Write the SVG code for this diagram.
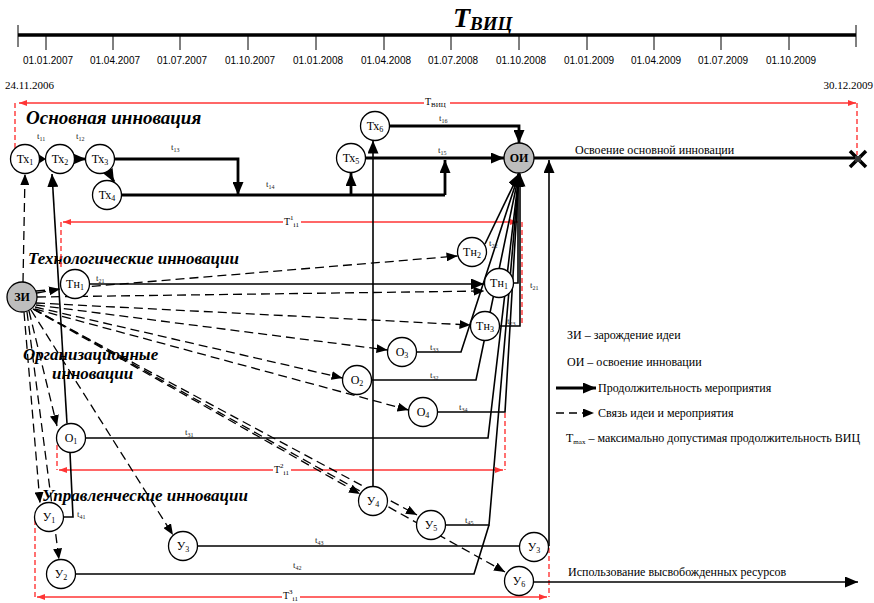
<svg xmlns="http://www.w3.org/2000/svg" width="874" height="603" viewBox="0 0 874 603">
  <style>
    .node circle { fill: #fff; stroke: #000; stroke-width: 1.3; }
    .node.grey circle { fill: #bdbdbd; }
    .nl { font-family: "Liberation Serif", "Times New Roman", serif; font-size: 12px; text-anchor: middle; }
    .nb { font-family: "Liberation Serif", "Times New Roman", serif; font-size: 12px; font-weight: bold; text-anchor: middle; }
    .thick { stroke: #000; stroke-width: 2.8; fill: none; }
    .thin { stroke: #000; stroke-width: 1.6; fill: none; }
    .dash { stroke: #000; stroke-width: 1.3; fill: none; stroke-dasharray: 9 5; }
    .red { stroke: #ff3535; stroke-width: 1.4; fill: none; }
    .reddash { stroke: #ff3535; stroke-width: 1.4; fill: none; stroke-dasharray: 5 3; }
    .t { font-family: "Liberation Serif", "Times New Roman", serif; font-size: 9px; fill: #222; }
    .h { font-family: "Liberation Serif", "Times New Roman", serif; font-weight: bold; font-style: italic; font-size: 17px; }
    .h.big { font-size: 19px; }
    .lg { font-family: "Liberation Serif", "Times New Roman", serif; font-size: 12px; }
    .date { font-family: "Liberation Sans", Arial, sans-serif; font-size: 10px; text-anchor: middle; }
    .rl { font-family: "Liberation Serif", "Times New Roman", serif; font-size: 10px; }
  </style>
  <defs>
    <marker id="ab" markerUnits="userSpaceOnUse" markerWidth="13" markerHeight="11" refX="13" refY="5.5" orient="auto">
      <path d="M0,0 L13,5.5 L0,11 z" fill="#000"/>
    </marker>
    <marker id="as" markerUnits="userSpaceOnUse" markerWidth="11" markerHeight="9" refX="11" refY="4.5" orient="auto">
      <path d="M0,0 L11,4.5 L0,9 z" fill="#000"/>
    </marker>
    <marker id="ar" markerUnits="userSpaceOnUse" markerWidth="8" markerHeight="6" refX="8" refY="3" orient="auto">
      <path d="M0,0 L8,3 L0,6 z" fill="#ff3535"/>
    </marker>
    <marker id="arl" markerUnits="userSpaceOnUse" markerWidth="8" markerHeight="6" refX="0" refY="3" orient="auto">
      <path d="M8,0 L0,3 L8,6 z" fill="#ff3535"/>
    </marker>
  </defs>

  <rect width="874" height="603" fill="#fff"/>

  <!-- time axis -->
  <g id="axis">
    <text x="453" y="27" font-family="Liberation Serif, serif" font-weight="bold" font-style="italic" font-size="28">T<tspan font-size="19" dy="3">ВИЦ</tspan></text>
    <line x1="18" y1="35" x2="856" y2="35" stroke="#000" stroke-width="3.5"/>
    <g stroke="#000" stroke-width="1">
      <line x1="18" y1="25" x2="18" y2="47"/>
      <line x1="856" y1="25" x2="856" y2="47"/>
      <line x1="46" y1="35" x2="46" y2="50"/>
      <line x1="113" y1="35" x2="113" y2="50"/>
      <line x1="180" y1="35" x2="180" y2="50"/>
      <line x1="248" y1="35" x2="248" y2="50"/>
      <line x1="316" y1="35" x2="316" y2="50"/>
      <line x1="384" y1="35" x2="384" y2="50"/>
      <line x1="451" y1="35" x2="451" y2="50"/>
      <line x1="519" y1="35" x2="519" y2="50"/>
      <line x1="587" y1="35" x2="587" y2="50"/>
      <line x1="654" y1="35" x2="654" y2="50"/>
      <line x1="721" y1="35" x2="721" y2="50"/>
      <line x1="789" y1="35" x2="789" y2="50"/>
    </g>
    <g class="date">
      <text x="48" y="64">01.01.2007</text>
      <text x="115" y="64">01.04.2007</text>
      <text x="182" y="64">01.07.2007</text>
      <text x="250" y="64">01.10.2007</text>
      <text x="318" y="64">01.01.2008</text>
      <text x="386" y="64">01.04.2008</text>
      <text x="453" y="64">01.07.2008</text>
      <text x="521" y="64">01.10.2008</text>
      <text x="589" y="64">01.01.2009</text>
      <text x="656" y="64">01.04.2009</text>
      <text x="723" y="64">01.07.2009</text>
      <text x="791" y="64">01.10.2009</text>
    </g>
    <text x="5" y="89" font-family="Liberation Serif, serif" font-size="11">24.11.2006</text>
    <text x="873" y="89" text-anchor="end" font-family="Liberation Serif, serif" font-size="11">30.12.2009</text>
  </g>

  <!-- section headings -->
  <g id="headings">
    <text class="h big" x="26" y="124">Основная инновация</text>
    <text class="h" x="28" y="264">Технологические инновации</text>
    <text class="h" x="23" y="360">Организационные</text>
    <text class="h" x="52" y="379">инновации</text>
    <text class="h" x="42" y="501">Управленческие инновации</text>
  </g>

  <!-- red duration brackets -->
  <g id="durations">
    <path class="red" d="M19,103 H856" marker-start="url(#arl)" marker-end="url(#ar)"/>
    <path class="reddash" d="M15,103 V149"/>
    <path class="reddash" d="M857,103 V155"/>
    <rect x="424" y="97" width="26" height="12" fill="#fff"/>
    <text class="rl" x="425" y="105">Т<tspan font-size="7" dy="2">ВИЦ</tspan></text>

    <path class="red" d="M63,222 H518" marker-start="url(#arl)" marker-end="url(#ar)"/>
    <path class="reddash" d="M61,222 V270"/>
    <path class="reddash" d="M522,222 V326"/>
    <rect x="283" y="214" width="18" height="14" fill="#fff"/>
    <text class="rl" x="284" y="225">T<tspan font-size="7" dy="-5">1</tspan><tspan font-size="7" dy="7">i1</tspan></text>

    <path class="red" d="M59,470 H503" marker-start="url(#arl)" marker-end="url(#ar)"/>
    <path class="reddash" d="M57,445 V470"/>
    <path class="reddash" d="M505,413 V470"/>
    <rect x="273" y="462" width="18" height="14" fill="#fff"/>
    <text class="rl" x="274" y="473">T<tspan font-size="7" dy="-5">2</tspan><tspan font-size="7" dy="7">i1</tspan></text>

    <path class="red" d="M37,597 H547" marker-start="url(#arl)" marker-end="url(#ar)"/>
    <path class="reddash" d="M35,520 V597"/>
    <path class="reddash" d="M549,548 V597"/>
    <rect x="282" y="588" width="18" height="14" fill="#fff"/>
    <text class="rl" x="283" y="599">T<tspan font-size="7" dy="-5">3</tspan><tspan font-size="7" dy="7">i1</tspan></text>
  </g>

  <!-- connectors -->
  <g id="connectors">
    <!-- idea links (dashed) -->
    <path class="dash" d="M23,282 L25,174" marker-end="url(#as)"/>
    <path class="dash" d="M37,293 L60,289" marker-end="url(#as)"/>
    <path class="dash" d="M36,291 L457.5,256" marker-end="url(#as)"/>
    <path class="dash" d="M37,297 L484.5,291" marker-end="url(#as)"/>
    <path class="dash" d="M36,303 L470.5,325" marker-end="url(#as)"/>
    <path class="dash" d="M36,305 L387.5,350" marker-end="url(#as)"/>
    <path class="dash" d="M35,307 L342.5,378" marker-end="url(#as)"/>
    <path class="dash" d="M35,309 L408.5,410" marker-end="url(#as)"/>
    <path class="dash" d="M29,311 L57,426" marker-end="url(#as)"/>
    <path class="dash" d="M24,312 L40,503" marker-end="url(#as)"/>
    <path class="dash" d="M27,312 L59,559.5" marker-end="url(#as)"/>
    <path class="dash" d="M31,310 L173,535" marker-end="url(#as)"/>
    <path class="dash" d="M33,309 L360,494" marker-end="url(#as)"/>
    <path class="dash" d="M33,309 L417,515" marker-end="url(#as)"/>
    <path class="dash" d="M34,309 L505,572" marker-end="url(#as)"/>

    <!-- main innovation chain -->
    <polygon points="39,154.5 46,159 39,163.5" fill="#000"/>
    <path class="thick" d="M74.5,159 L86,159" marker-end="url(#ab)"/>
    <path class="thick" d="M108,171 L114,182" marker-end="url(#ab)"/>
    <path class="thick" d="M114.5,159 H238 V195" marker-end="url(#ab)"/>
    <path class="thick" d="M121.5,195 H445"/>
    <path class="thick" d="M351,195 V173" marker-end="url(#ab)"/>
    <path class="thick" d="M445,195 V160" marker-end="url(#ab)"/>
    <path class="thick" d="M365.5,158 H504" marker-end="url(#ab)"/>
    <path class="thick" d="M389.5,126 H519 V143" marker-end="url(#ab)"/>
    <path class="thick" d="M534,158 H858"/>
    <path stroke="#000" stroke-width="3.5" d="M850,151 L866,167 M866,151 L850,167"/>
    <rect x="855" y="156" width="6" height="6" fill="#333"/>

    <!-- durations feeding ОИ -->
    <path class="thin" d="M67,423.5 L52,174" marker-end="url(#ab)"/>
    <path class="thin" d="M89.5,284 H484" marker-end="url(#ab)"/>
    <path class="thin" d="M63.5,517 H73 L70,452.5"/>
    <path class="thin" d="M85.5,438 H488 L519,173.5" marker-end="url(#ab)"/>
    <path class="thin" d="M371.5,380 H476 L519,173.5" marker-end="url(#ab)"/>
    <path class="thin" d="M416.5,352 H461 L519,173.5" marker-end="url(#ab)"/>
    <path class="thin" d="M437.5,412 H505 L519,173.5" marker-end="url(#ab)"/>
    <path class="thin" d="M485,244 L519,173.5" marker-end="url(#ab)"/>
    <path class="thin" d="M513.5,283 H518 V173.5" marker-end="url(#ab)"/>
    <path class="thin" d="M499.5,326 H520 V173.5" marker-end="url(#ab)"/>
    <path class="thin" d="M445.5,525 H489 L519,173.5" marker-end="url(#ab)"/>
    <path class="thin" d="M75.5,574 H474 L489,525"/>
    <path class="thin" d="M197.5,546 H519.5"/>
    <path class="thin" d="M549,546 V160" marker-end="url(#ab)"/>
    <path class="thin" d="M373,486.5 V140.5" marker-end="url(#ab)"/>
    <path class="thin" d="M533.5,582 H858" marker-end="url(#ab)"/>
  </g>

  <!-- activity durations -->
  <g id="durlabels" class="t">
    <text x="37" y="139">t<tspan font-size="6" dy="2">11</tspan></text>
    <text x="76" y="139">t<tspan font-size="6" dy="2">12</tspan></text>
    <text x="171" y="150">t<tspan font-size="6" dy="2">13</tspan></text>
    <text x="266" y="187">t<tspan font-size="6" dy="2">14</tspan></text>
    <text x="439" y="121">t<tspan font-size="6" dy="2">16</tspan></text>
    <text x="438" y="153">t<tspan font-size="6" dy="2">15</tspan></text>
    <text x="96" y="281">t<tspan font-size="6" dy="2">21</tspan></text>
    <text x="489" y="246">t<tspan font-size="6" dy="2">22</tspan></text>
    <text x="530" y="288">t<tspan font-size="6" dy="2">21</tspan></text>
    <text x="507" y="324">t<tspan font-size="6" dy="2">23</tspan></text>
    <text x="430" y="350">t<tspan font-size="6" dy="2">33</tspan></text>
    <text x="430" y="378">t<tspan font-size="6" dy="2">32</tspan></text>
    <text x="459" y="410">t<tspan font-size="6" dy="2">34</tspan></text>
    <text x="185" y="435">t<tspan font-size="6" dy="2">31</tspan></text>
    <text x="77" y="517">t<tspan font-size="6" dy="2">41</tspan></text>
    <text x="315" y="543">t<tspan font-size="6" dy="2">43</tspan></text>
    <text x="293" y="568">t<tspan font-size="6" dy="2">42</tspan></text>
    <text x="465" y="523">t<tspan font-size="6" dy="2">45</tspan></text>
  </g>

  <!-- nodes -->
  <g id="tx1" class="node"><circle cx="25" cy="159" r="14.5"/><text class="nl" x="25" y="163">Тх<tspan font-size="8" dy="2">1</tspan></text></g>
  <g id="tx2" class="node"><circle cx="60" cy="159" r="14.5"/><text class="nl" x="60" y="163">Тх<tspan font-size="8" dy="2">2</tspan></text></g>
  <g id="tx3" class="node"><circle cx="100" cy="159" r="14.5"/><text class="nl" x="100" y="163">Тх<tspan font-size="8" dy="2">3</tspan></text></g>
  <g id="tx4" class="node"><circle cx="107" cy="195" r="14.5"/><text class="nl" x="107" y="199">Тх<tspan font-size="8" dy="2">4</tspan></text></g>
  <g id="tx5" class="node"><circle cx="351" cy="158" r="14.5"/><text class="nl" x="351" y="162">Тх<tspan font-size="8" dy="2">5</tspan></text></g>
  <g id="tx6" class="node"><circle cx="375" cy="126" r="14.5"/><text class="nl" x="375" y="130">Тх<tspan font-size="8" dy="2">6</tspan></text></g>
  <g id="oi" class="node grey"><circle cx="519" cy="158" r="15"/><text class="nb" x="519" y="162">ОИ</text></g>

  <g id="zi" class="node grey"><circle cx="22" cy="297" r="15"/><text class="nb" x="22" y="301">ЗИ</text></g>
  <g id="tn1a" class="node"><circle cx="75" cy="284" r="14.5"/><text class="nl" x="75" y="288">Тн<tspan font-size="8" dy="2">1</tspan></text></g>
  <g id="tn2" class="node"><circle cx="472" cy="252" r="14.5"/><text class="nl" x="472" y="256">Тн<tspan font-size="8" dy="2">2</tspan></text></g>
  <g id="tn1b" class="node"><circle cx="499" cy="283" r="14.5"/><text class="nl" x="499" y="287">Тн<tspan font-size="8" dy="2">1</tspan></text></g>
  <g id="tn3" class="node"><circle cx="485" cy="326" r="14.5"/><text class="nl" x="485" y="330">Тн<tspan font-size="8" dy="2">3</tspan></text></g>

  <g id="o1" class="node"><circle cx="71" cy="438" r="14.5"/><text class="nl" x="71" y="442">О<tspan font-size="8" dy="2">1</tspan></text></g>
  <g id="o2" class="node"><circle cx="357" cy="380" r="14.5"/><text class="nl" x="357" y="384">О<tspan font-size="8" dy="2">2</tspan></text></g>
  <g id="o3" class="node"><circle cx="402" cy="352" r="14.5"/><text class="nl" x="402" y="356">О<tspan font-size="8" dy="2">3</tspan></text></g>
  <g id="o4" class="node"><circle cx="423" cy="412" r="14.5"/><text class="nl" x="423" y="416">О<tspan font-size="8" dy="2">4</tspan></text></g>

  <g id="u1" class="node"><circle cx="49" cy="517" r="14.5"/><text class="nl" x="49" y="521">У<tspan font-size="8" dy="2">1</tspan></text></g>
  <g id="u2" class="node"><circle cx="61" cy="574" r="14.5"/><text class="nl" x="61" y="578">У<tspan font-size="8" dy="2">2</tspan></text></g>
  <g id="u3a" class="node"><circle cx="183" cy="546" r="14.5"/><text class="nl" x="183" y="550">У<tspan font-size="8" dy="2">3</tspan></text></g>
  <g id="u4" class="node"><circle cx="373" cy="501" r="14.5"/><text class="nl" x="373" y="505">У<tspan font-size="8" dy="2">4</tspan></text></g>
  <g id="u5" class="node"><circle cx="431" cy="525" r="14.5"/><text class="nl" x="431" y="529">У<tspan font-size="8" dy="2">5</tspan></text></g>
  <g id="u3b" class="node"><circle cx="534" cy="547" r="14.5"/><text class="nl" x="534" y="551">У<tspan font-size="8" dy="2">3</tspan></text></g>
  <g id="u6" class="node"><circle cx="519" cy="581" r="14.5"/><text class="nl" x="519" y="585">У<tspan font-size="8" dy="2">6</tspan></text></g>

  <!-- outcome captions -->
  <text class="lg" x="575" y="154">Освоение основной инновации</text>
  <text class="lg" x="568" y="576">Использование высвобожденных ресурсов</text>

  <!-- legend -->
  <g id="legend">
    <text class="lg" x="567" y="339">ЗИ – зарождение идеи</text>
    <text class="lg" x="567" y="366">ОИ – освоение инновации</text>
    <path class="thick" d="M556,388 H596" marker-end="url(#ab)"/>
    <text class="lg" x="598" y="392">Продолжительность мероприятия</text>
    <path stroke="#000" stroke-width="1.5" stroke-dasharray="8 5" fill="none" d="M556,413 H594" marker-end="url(#as)"/>
    <text class="lg" x="598" y="417">Связь идеи и мероприятия</text>
    <text class="lg" x="566" y="442">T<tspan font-size="7" dy="2">max</tspan><tspan dy="-2"> – максимально допустимая продолжительность ВИЦ</tspan></text>
  </g>
</svg>
